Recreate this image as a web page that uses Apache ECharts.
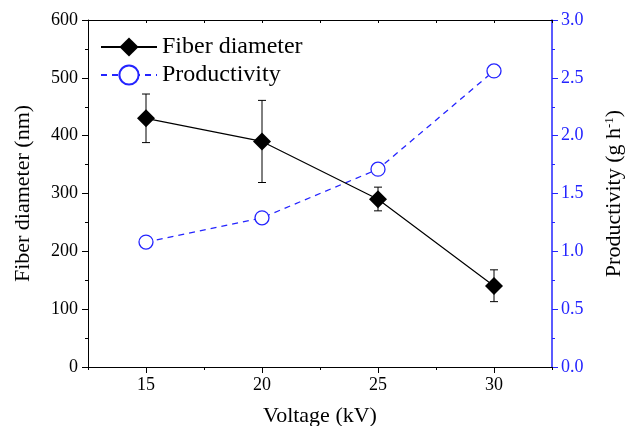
<!DOCTYPE html>
<html>
<head>
<meta charset="utf-8">
<script src="https://cdn.jsdelivr.net/npm/echarts@6/dist/echarts.min.js"></script>
<style>
html, body { margin: 0; padding: 0; background: #fff; }
#chart { width: 627px; height: 426px; }
</style>
</head>
<body>
<div id="chart"></div>
<script>
var voltage = [15, 20, 25, 30];
var diameter = [430, 390, 290, 140];
var diameterLow = [388, 319, 270, 113];
var diameterHigh = [472, 461, 311, 168];
var productivity = [1.08, 1.29, 1.71, 2.56];
var xTicks = [15, 20, 25, 30];

var blue = '#2424ff';
var font = 'Liberation Serif';

var myChart = echarts.init(document.getElementById('chart'));

function pairs(xs, ys) {
    return xs.map(function (x, i) { return [x, ys[i]]; });
}

var xBase = {
    type: 'value',
    min: 12.5,
    max: 32.5,
    interval: 2.5,
    splitLine: { show: false },
    axisLine: { lineStyle: { color: '#000', width: 1 } }
};

option = {
    animation: false,
    grid: { left: 88, right: 75, top: 20, bottom: 59, outerBoundsMode: 'none', containLabel: false },
    legend: {
        orient: 'vertical',
        left: 95,
        top: 30,
        itemWidth: 56,
        itemHeight: 24,
        itemGap: 4,
        textStyle: { fontFamily: font, fontSize: 24, color: '#000' },
        data: ['Fiber diameter', 'Productivity']
    },
    xAxis: [
        Object.assign({}, xBase, {
            position: 'bottom',
            name: 'Voltage (kV)',
            nameLocation: 'middle',
            nameGap: 38,
            nameTextStyle: { fontFamily: font, fontSize: 22, color: '#000' },
            axisTick: { customValues: xTicks, length: 6, lineStyle: { color: '#000' } },
            axisLabel: { customValues: xTicks, fontFamily: font, fontSize: 18, color: '#000', margin: 9 }
        }),
        Object.assign({}, xBase, {
            position: 'bottom',
            axisLine: { show: false },
            axisTick: { length: 3, lineStyle: { color: '#000' } },
            axisLabel: { show: false }
        }),
        Object.assign({}, xBase, {
            position: 'top',
            axisTick: { inside: true, length: 3, lineStyle: { color: '#000' } },
            axisLabel: { show: false }
        })
    ],
    yAxis: [
        {
            type: 'value',
            min: 0,
            max: 600,
            interval: 100,
            position: 'left',
            name: 'Fiber diameter (nm)',
            nameLocation: 'middle',
            nameGap: 54,
            nameTextStyle: { fontFamily: font, fontSize: 22, color: '#000' },
            splitLine: { show: false },
            axisLine: { show: true, lineStyle: { color: '#000', width: 1 } },
            axisTick: { show: true, length: 6, lineStyle: { color: '#000' } },
            minorTick: { show: true, splitNumber: 2, length: 3, lineStyle: { color: '#000' } },
            axisLabel: { fontFamily: font, fontSize: 18, color: '#000', margin: 10 }
        },
        {
            type: 'value',
            min: 0,
            max: 3,
            interval: 0.5,
            position: 'right',
            name: 'Productivity (g h{sup|-1})',
            nameLocation: 'middle',
            nameGap: 51,
            nameTextStyle: {
                fontFamily: font, fontSize: 22, color: '#000',
                rich: { sup: { fontFamily: font, fontSize: 13, color: '#000', verticalAlign: 'top', padding: [0, 0, 10, 0] } }
            },
            splitLine: { show: false },
            axisLine: { show: true, lineStyle: { color: blue, width: 1.5 } },
            axisTick: { show: true, length: 6, lineStyle: { color: blue } },
            minorTick: { show: true, splitNumber: 2, length: 3, lineStyle: { color: blue } },
            axisLabel: {
                fontFamily: font, fontSize: 18, color: blue, margin: 9,
                formatter: function (v) { return v.toFixed(1); }
            }
        }
    ],
    series: [
        {
            name: 'Diameter error',
            type: 'custom',
            xAxisIndex: 0,
            yAxisIndex: 0,
            z: 1,
            data: voltage.map(function (x, i) { return [x, diameterLow[i], diameterHigh[i]]; }),
            renderItem: function (params, api) {
                var top = api.coord([api.value(0), api.value(2)]);
                var bot = api.coord([api.value(0), api.value(1)]);
                var w = 4;
                var st = { stroke: '#000', lineWidth: 1 };
                return {
                    type: 'group',
                    children: [
                        { type: 'line', shape: { x1: top[0], y1: top[1], x2: bot[0], y2: bot[1] }, style: st },
                        { type: 'line', shape: { x1: top[0] - w, y1: top[1], x2: top[0] + w, y2: top[1] }, style: st },
                        { type: 'line', shape: { x1: bot[0] - w, y1: bot[1], x2: bot[0] + w, y2: bot[1] }, style: st }
                    ]
                };
            }
        },
        {
            name: 'Fiber diameter',
            type: 'line',
            xAxisIndex: 0,
            yAxisIndex: 0,
            z: 3,
            data: pairs(voltage, diameter),
            symbol: 'diamond',
            symbolSize: 18,
            itemStyle: { color: '#000' },
            lineStyle: { color: '#000', width: 1.2 }
        },
        {
            name: 'Productivity',
            type: 'line',
            xAxisIndex: 0,
            yAxisIndex: 1,
            z: 2,
            data: pairs(voltage, productivity),
            symbol: 'circle',
            symbolSize: 14,
            itemStyle: { color: '#fff', borderColor: blue, borderWidth: 1.3 },
            lineStyle: { color: blue, width: 1.3, type: [6, 5] }
        }
    ]
};
myChart.setOption(option);
</script>
</body>
</html>
